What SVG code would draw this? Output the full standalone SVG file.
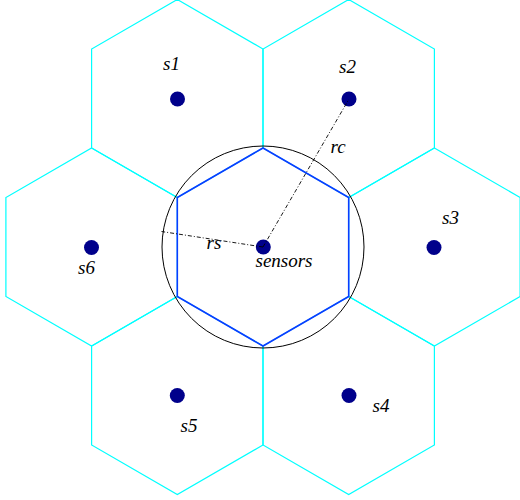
<svg xmlns="http://www.w3.org/2000/svg" width="520" height="500" viewBox="0 0 520 500">
<style>
.hex{fill:none;stroke:#00ffff;stroke-width:1.2}
.center-hex{fill:none;stroke:#0a3cff;stroke-width:1.6}
.dot{fill:#00008b}
.conn{stroke:#000;stroke-width:0.9;fill:none;stroke-dasharray:4,2,1,2}
</style>
<rect width="520" height="500" fill="#fff"/>
<g font-family="'Liberation Serif', 'Times New Roman', serif" font-style="italic" font-size="19" fill="#000">
<g id="s1">
<polygon class="hex" points="177.3,-0.5 263,49 263,148 177.3,197.5 91.6,148 91.6,49"/>
<circle class="dot" cx="177.5" cy="99" r="7.5"/>
<text x="163" y="70">s1</text>
</g>
<g id="s2">
<polygon class="hex" points="348.7,-0.5 434.4,49 434.4,148 348.7,197.5 263,148 263,49"/>
<circle class="dot" cx="349" cy="99" r="7.5"/>
<text x="339" y="73">s2</text>
</g>
<g id="s3">
<polygon class="hex" points="434.4,148 520.1,197.5 520.1,296.5 434.4,346 348.7,296.5 348.7,197.5"/>
<circle class="dot" cx="434" cy="247.5" r="7.5"/>
<text x="442" y="224">s3</text>
</g>
<g id="s4">
<polygon class="hex" points="348.7,296.5 434.4,346 434.4,445 348.7,494.5 263,445 263,346"/>
<circle class="dot" cx="349" cy="395.5" r="7.5"/>
<text x="372.5" y="412">s4</text>
</g>
<g id="s5">
<polygon class="hex" points="177.3,296.5 263,346 263,445 177.3,494.5 91.6,445 91.6,346"/>
<circle class="dot" cx="177.3" cy="395.5" r="7.5"/>
<text x="180.5" y="431.5">s5</text>
</g>
<g id="s6">
<polygon class="hex" points="91.6,148 177.3,197.5 177.3,296.5 91.6,346 5.9,296.5 5.9,197.5"/>
<circle class="dot" cx="91.5" cy="247.5" r="7.5"/>
<text x="78" y="274">s6</text>
</g>
<g id="sensors">
<polygon class="center-hex" points="263,148 348.7,197.5 348.7,296.5 263,346 177.3,296.5 177.3,197.5"/>
<circle cx="263" cy="247" r="101" fill="none" stroke="#000" stroke-width="1"/>
<circle class="dot" cx="263.3" cy="247" r="7.5"/>
<text x="255.5" y="267">sensors</text>
</g>
<g id="connectors">
<line class="conn" x1="263" y1="247" x2="349" y2="99"/>
<line class="conn" x1="263" y1="247" x2="161.5" y2="231.5"/>
<text x="330.5" y="153">rc</text>
<text x="206.5" y="249">rs</text>
</g>
</g>
</svg>
